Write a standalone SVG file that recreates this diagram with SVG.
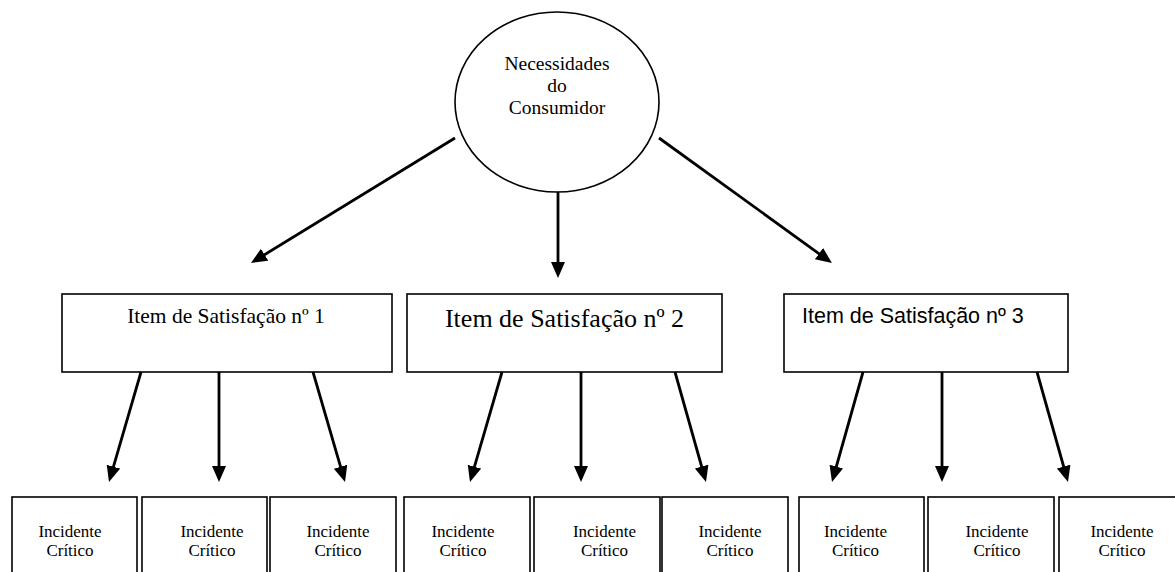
<svg xmlns="http://www.w3.org/2000/svg" width="1175" height="572" viewBox="0 0 1175 572">
<style>
.shape{fill:#fff;stroke:#000;stroke-width:1.6}
.conn{stroke:#000;stroke-width:2.8;fill:none}
.serif{font-family:"Liberation Serif","Times New Roman",serif;fill:#000;text-anchor:middle}
.sans{font-family:"Liberation Sans",Arial,sans-serif;fill:#000}
.inc{font-size:17px}
</style>
<defs>
<marker id="ah" markerUnits="userSpaceOnUse" markerWidth="18" markerHeight="16" refX="2" refY="7" orient="auto">
<path d="M0,0 L16,7 L0,14 z" fill="#000"/>
</marker>
</defs>
<rect width="1175" height="572" fill="#fff"/>
<g id="root">
<ellipse class="shape" cx="557" cy="102" rx="102" ry="90"/>
<text class="serif" font-size="19.5"><tspan x="557" y="70">Necessidades</tspan><tspan x="557" y="92">do</tspan><tspan x="557" y="114">Consumidor</tspan></text>
</g>
<g id="item1">
<rect class="shape" x="62" y="294" width="330" height="78"/>
<text class="serif" x="226" y="323" font-size="21.5">Item de Satisfação nº 1</text>
</g>
<g id="item2">
<rect class="shape" x="407" y="294" width="315" height="78"/>
<text class="serif" x="564.5" y="327" font-size="26">Item de Satisfação nº 2</text>
</g>
<g id="item3">
<rect class="shape" x="784" y="294" width="284" height="78"/>
<text class="sans" x="802" y="323" font-size="21.5">Item de Satisfação nº 3</text>
</g>
<g id="inc1"><rect class="shape" x="12" y="497" width="125" height="100"/><text class="serif inc"><tspan x="70" y="537">Incidente</tspan><tspan x="70" y="556">Crítico</tspan></text></g>
<g id="inc2"><rect class="shape" x="142" y="497" width="125" height="100"/><text class="serif inc"><tspan x="212" y="537">Incidente</tspan><tspan x="212" y="556">Crítico</tspan></text></g>
<g id="inc3"><rect class="shape" x="270" y="497" width="126" height="100"/><text class="serif inc"><tspan x="338" y="537">Incidente</tspan><tspan x="338" y="556">Crítico</tspan></text></g>
<g id="inc4"><rect class="shape" x="404" y="497" width="126" height="100"/><text class="serif inc"><tspan x="463" y="537">Incidente</tspan><tspan x="463" y="556">Crítico</tspan></text></g>
<g id="inc5"><rect class="shape" x="534" y="497" width="126" height="100"/><text class="serif inc"><tspan x="604.5" y="537">Incidente</tspan><tspan x="604.5" y="556">Crítico</tspan></text></g>
<g id="inc6"><rect class="shape" x="662" y="497" width="126" height="100"/><text class="serif inc"><tspan x="730" y="537">Incidente</tspan><tspan x="730" y="556">Crítico</tspan></text></g>
<g id="inc7"><rect class="shape" x="799" y="497" width="125" height="100"/><text class="serif inc"><tspan x="855.5" y="537">Incidente</tspan><tspan x="855.5" y="556">Crítico</tspan></text></g>
<g id="inc8"><rect class="shape" x="928" y="497" width="126" height="100"/><text class="serif inc"><tspan x="997" y="537">Incidente</tspan><tspan x="997" y="556">Crítico</tspan></text></g>
<g id="inc9"><rect class="shape" x="1059" y="497" width="130" height="100"/><text class="serif inc"><tspan x="1122" y="537">Incidente</tspan><tspan x="1122" y="556">Crítico</tspan></text></g>
<g id="connectors">
<line class="conn" x1="455" y1="138" x2="262.9" y2="255.7" marker-end="url(#ah)"/>
<line class="conn" x1="558" y1="192" x2="558" y2="264" marker-end="url(#ah)"/>
<line class="conn" x1="659" y1="138" x2="820.6" y2="254.8" marker-end="url(#ah)"/>
<line class="conn" x1="141" y1="372" x2="112.9" y2="468.6" marker-end="url(#ah)"/>
<line class="conn" x1="219" y1="372" x2="219" y2="468" marker-end="url(#ah)"/>
<line class="conn" x1="313" y1="372" x2="341.1" y2="468.6" marker-end="url(#ah)"/>
<line class="conn" x1="502" y1="372" x2="473.9" y2="468.6" marker-end="url(#ah)"/>
<line class="conn" x1="581" y1="372" x2="581" y2="468" marker-end="url(#ah)"/>
<line class="conn" x1="675" y1="372" x2="702.2" y2="468.5" marker-end="url(#ah)"/>
<line class="conn" x1="863" y1="372" x2="835.8" y2="468.5" marker-end="url(#ah)"/>
<line class="conn" x1="942" y1="372" x2="942" y2="468" marker-end="url(#ah)"/>
<line class="conn" x1="1037" y1="372" x2="1064.2" y2="468.5" marker-end="url(#ah)"/>
</g>
</svg>
